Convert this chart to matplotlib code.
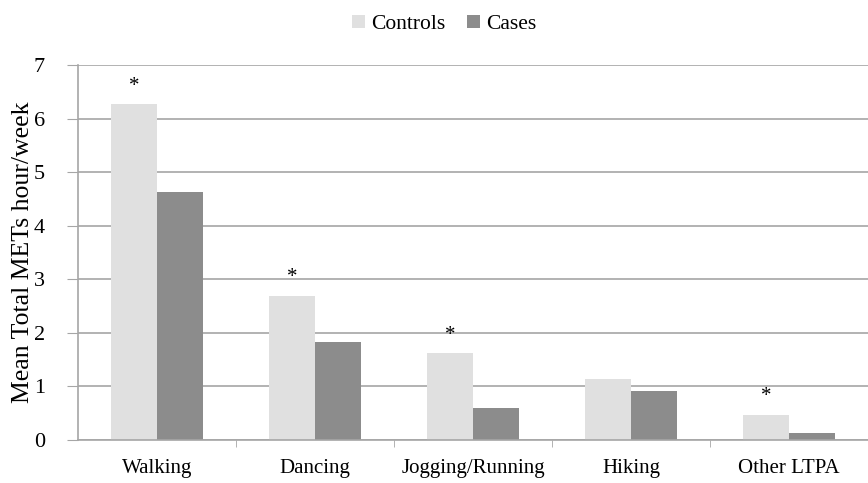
import numpy as np
import matplotlib.pyplot as plt
from matplotlib.ticker import FixedLocator

# Средние МЕТ-часы в неделю по видам активности
categories = ["Walking", "Dancing", "Jogging/Running", "Hiking", "Other LTPA"]
controls = [6.27, 2.69, 1.62, 1.14, 0.47]
cases = [4.63, 1.83, 0.60, 0.92, 0.13]
significant = [True, True, True, False, True]

plt.rcParams['font.family'] = ['Liberation Serif', 'DejaVu Serif']

fig = plt.figure(figsize=(8.68, 4.83), dpi=100)
ax = fig.add_axes([0.09, 0.089, 0.91, 0.776])

x = np.arange(len(categories))
w = 0.29
ax.bar(x - w / 2, controls, w, color="#e0e0e0", label="Controls", zorder=2)
ax.bar(x + w / 2, cases, w, color="#8c8c8c", label="Cases", zorder=2)

# звёздочки над значимыми различиями
for xi, val, sig in zip(x, controls, significant):
    if sig:
        ax.text(xi - w / 2, val + 0.16, "*", ha="center", va="bottom", fontsize=15)

ax.set_xlim(-0.5, 4.5)
ax.set_ylim(0, 7)
ax.set_yticks(range(8))
ax.yaxis.grid(True, color="#a6a6a6", linewidth=1.2, zorder=0)
ax.set_axisbelow(True)

ax.set_xticks(x)
ax.set_xticklabels(categories, fontsize=15)
ax.tick_params(axis="x", length=0, pad=14)
ax.xaxis.set_minor_locator(FixedLocator(np.arange(0.5, 4.5, 1)))
ax.tick_params(axis="x", which="minor", length=5, color="#a6a6a6", direction="out")
ax.tick_params(axis="y", length=8, color="#a6a6a6", labelsize=16, pad=16)

for s in ["top", "right"]:
    ax.spines[s].set_visible(False)
for s in ["left", "bottom"]:
    ax.spines[s].set_color("#a6a6a6")
    ax.spines[s].set_linewidth(1.2)

ax.set_ylabel("Mean Total METs hour/week", fontsize=18.5)
ax.yaxis.set_label_coords(-0.056, 0.5)

fig.legend(loc="upper center", bbox_to_anchor=(0.512, 1.01), ncol=2, frameon=False,
           fontsize=15.5, handlelength=0.6, handleheight=0.6, columnspacing=1.0,
           handletextpad=0.3)

fig.savefig("out.png", dpi=100)
